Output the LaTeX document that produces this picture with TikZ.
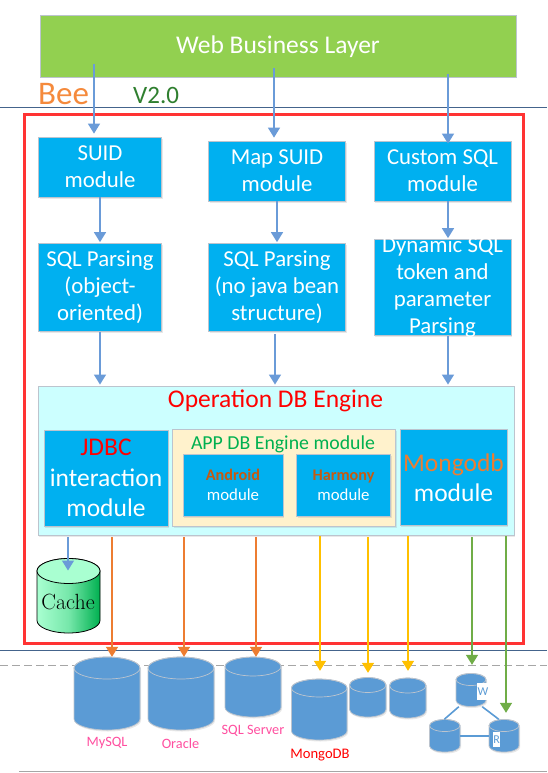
\documentclass[tikz,border=0pt]{standalone}
\usepackage{fontspec}
\setmainfont{Carlito}
\newfontfamily\cachefont{Latin Modern Roman}
\usetikzlibrary{arrows.meta,shadows}
\definecolor{boxblue}{HTML}{00B0F0}
\definecolor{edgegray}{HTML}{BCC4CE}
\definecolor{webgreen}{HTML}{92D050}
\definecolor{enginecyan}{HTML}{CCFFFF}
\definecolor{appcream}{HTML}{FFF2CC}
\definecolor{conblue}{HTML}{6A9BD8}
\definecolor{conorange}{HTML}{ED7D31}
\definecolor{conyellow}{HTML}{FFC000}
\definecolor{congreen}{HTML}{70AD47}
\definecolor{dbblue}{HTML}{5B9BD5}
\definecolor{framered}{HTML}{FF3333}
\definecolor{beeorange}{HTML}{F58A3C}
\definecolor{vgreen}{HTML}{2F7F2F}
\definecolor{rust}{HTML}{C55A11}
\definecolor{pinklabel}{HTML}{FF4FA0}
\definecolor{appgreen}{HTML}{00B050}
\definecolor{mint}{HTML}{A9FFD1}
\definecolor{cachegreen}{HTML}{00B050}
\definecolor{ruleblue}{HTML}{44648C}
\tikzset{
  softshadow/.style={drop shadow={opacity=.18,shadow xshift=1pt,shadow yshift=-1.5pt}},
  bx/.style={rectangle,draw=edgegray,line width=.8pt,fill=boxblue,text=white,align=center,inner sep=0pt,softshadow},
  txt22/.style={font=\fontsize{22.8}{27}\selectfont},
  txt25/.style={font=\fontsize{25.5}{30.5}\selectfont},
  conn/.style={line width=1.5pt,-{Triangle[width=12pt,length=10pt]}},
  cb/.style={conn,color=conblue},
  cor/.style={conn,color=conorange},
  cye/.style={conn,color=conyellow},
  cgr/.style={conn,color=congreen},
  dbbody/.style={fill=dbblue,draw=edgegray,line width=.7pt,softshadow},
  dbtop/.style={draw=edgegray,line width=.7pt},
  dblabel/.style={font=\fontsize{14.3}{16}\selectfont,text=pinklabel,inner sep=0pt},
  tag/.style={fill=white,text=dbblue,inner sep=0pt,font=\fontsize{12}{14}\selectfont},
  link/.style={draw=dbblue,line width=1.6pt}
}
% name, x0, y0, x1, y1, ry, body style, top style
\newcommand{\dbc}[8]{%
  \pgfmathsetmacro{\cx}{(#2+#4)/2}\pgfmathsetmacro{\rx}{(#4-#2)/2}%
  \pgfmathsetmacro{\kx}{.55*\rx}%
  \pgfmathsetmacro{\ya}{#3+#6}\pgfmathsetmacro{\yb}{#5-#6}%
  \pgfmathsetmacro{\yc}{\yb+.55*#6}\pgfmathsetmacro{\yd}{#3+.45*#6}%
  \pgfmathsetmacro{\ye}{#3+1.55*#6}\pgfmathsetmacro{\yf}{#3+2*#6}%
  \pgfmathsetmacro{\lmx}{\cx-\kx}\pgfmathsetmacro{\rmx}{\cx+\kx}%
  \pgfmathsetmacro{\ww}{#4-#2}\pgfmathsetmacro{\hh}{#5-#3}\pgfmathsetmacro{\cy}{(#3+#5)/2}%
  \node[inner sep=0pt,minimum width=\ww pt,minimum height=\hh pt] (#1) at (\cx,\cy) {};
  \path[#7] (#2,\ya) -- (#2,\yb) .. controls (#2,\yc) and (\lmx,#5) .. (\cx,#5)
     .. controls (\rmx,#5) and (#4,\yc) .. (#4,\yb) -- (#4,\ya)
     .. controls (#4,\yd) and (\rmx,#3) .. (\cx,#3) .. controls (\lmx,#3) and (#2,\yd) .. cycle;
  \path[#8] (#2,\ya) .. controls (#2,\ye) and (\lmx,\yf) .. (\cx,\yf)
     .. controls (\rmx,\yf) and (#4,\ye) .. (#4,\ya)
     .. controls (#4,\yd) and (\rmx,#3) .. (\cx,#3) .. controls (\lmx,#3) and (#2,\yd) .. (#2,\ya);
}
\begin{document}
\begin{tikzpicture}[x=1pt,y=-1pt]
\useasboundingbox (0,0) rectangle (547,773);
\fill[white] (0,0) rectangle (547,773);
% horizontal rules
\coordinate (r1a) at (0,107); \coordinate (r1b) at (547,107);
\draw[draw=ruleblue,line width=.9pt] (r1a) -- (r1b);
\coordinate (r2a) at (0,650); \coordinate (r2b) at (547,650);
\draw[draw=ruleblue,line width=.9pt] (r2a) -- (r2b);
\coordinate (r3a) at (0,665); \coordinate (r3b) at (547,665);
\draw[draw=black!35,dash pattern=on 8pt off 4pt,line width=.7pt] (r3a) -- (r3b);
\coordinate (r4a) at (19,771.3); \coordinate (r4b) at (547,771.3);
\draw[draw=black!35,line width=.8pt] (r4a) -- (r4b);

% web layer and titles
\node[bx,fill=webgreen,minimum width=476pt,minimum height=62pt,font=\fontsize{25.5}{30}\selectfont] (web) at (278,46) {\raisebox{-7.5pt}[0pt][0pt]{Web Business Layer}};
\node[inner sep=0pt,text=beeorange,font=\fontsize{33}{36}\selectfont,anchor=base west] (bee) at (38,105) {Bee};
\node[inner sep=0pt,text=vgreen,font=\fontsize{25}{28}\selectfont,anchor=base west] (ver) at (133,103.5) {V2.0};

% frame
\node[draw=framered,line width=3pt,inner sep=0pt,minimum width=499pt,minimum height=528pt] (frame) at (273.5,379) {};

% first row
\node[bx,txt22,minimum width=123pt,minimum height=60pt] (suid) at (100,167) {SUID\\module};
\node[bx,txt22,minimum width=137pt,minimum height=60pt] (mapsuid) at (277,171) {Map SUID\\module};
\node[bx,txt22,minimum width=137pt,minimum height=60pt] (custom) at (442.5,171) {Custom SQL\\module};
% second row
\node[bx,txt22,minimum width=123pt,minimum height=87.5pt] (sqla) at (100,287.3) {SQL Parsing\\(object-\\oriented)};
\node[bx,txt22,minimum width=137pt,minimum height=87.5pt] (sqlb) at (277,287.3) {SQL Parsing\\(no java bean\\structure)};
\node[bx,minimum width=137pt,minimum height=95.5pt] (dynbox) at (442.5,287.3) {};
\node[txt22,text=white,align=center,inner sep=0pt] (dyntext) at (442.5,287) {Dynamic SQL\\token and\\parameter\\Parsing};

% engine
\node[bx,fill=enginecyan,minimum width=476pt,minimum height=149.5pt] (engine) at (276.3,460.7) {};
\node[inner sep=0pt,text=red,font=\fontsize{25.5}{30}\selectfont] (enginetitle) at (275.5,401) {Operation DB Engine};
\node[bx,txt25,minimum width=124pt,minimum height=96pt] (jdbc) at (106,478) {\textcolor{red}{JDBC}\\interaction\\module};
\node[bx,fill=appcream,minimum width=223pt,minimum height=96.5pt] (app) at (284,478) {};
\node[inner sep=0pt,text=appgreen,font=\fontsize{19.8}{23}\selectfont] (apptitle) at (283,444) {APP DB Engine module};
\node[bx,font=\fontsize{16.8}{20}\selectfont,minimum width=100pt,minimum height=62pt] (android) at (233,485) {{\fontsize{16.2}{20}\selectfont\bfseries\textcolor{rust}{Android}}\\module};
\node[bx,font=\fontsize{16.8}{20}\selectfont,minimum width=94pt,minimum height=62pt] (harmony) at (343.5,485) {{\fontsize{16.2}{20}\selectfont\bfseries\textcolor{rust}{Harmony}}\\module};
\node[bx,txt25,minimum width=107pt,minimum height=96pt] (mongo) at (453.5,477.5) {\textcolor{conorange}{Mongodb}\\module};

% cache
\dbc{cache}{37}{558.5}{100}{633}{12.5}{draw=black,line width=.8pt,left color=mint,right color=cachegreen,middle color=mint!70!cachegreen}{draw=black,line width=.8pt,fill=mint}
\node[inner sep=0pt,text=black,font=\cachefont\fontsize{22}{24}\selectfont] (cachetext) at (68,602) {Cache};

% databases
\dbc{mysql}{74}{657}{140}{730}{11}{dbbody}{dbtop}
\dbc{oracle}{148}{657}{214}{730}{11}{dbbody}{dbtop}
\dbc{sqlserver}{225}{657}{281}{717}{9.5}{dbbody}{dbtop}
\dbc{mongodb}{291.5}{679}{347}{740}{9}{dbbody}{dbtop}
\dbc{mdb2}{349.5}{677.5}{386}{717}{7.5}{dbbody}{dbtop}
\dbc{mdb3}{389.5}{678}{426}{718}{7.5}{dbbody}{dbtop}
\dbc{cw}{456}{673.5}{486}{706.5}{6}{dbbody}{dbtop}
\dbc{cl}{429.5}{719.5}{460}{752}{6}{dbbody}{dbtop}
\dbc{cr}{489}{719.5}{519}{752}{6}{dbbody}{dbtop}
\draw[link] ([xshift=3pt]cw.south west) -- ([xshift=15pt]cl.north west);
\draw[link] ([xshift=-4pt]cw.south east) -- ([xshift=10pt]cr.north west);
\draw[link] (cl.east) -- (cr.west);
\node[tag,minimum width=12pt,minimum height=17pt] (wtag) at (483,691.5) {W};
\node[tag,minimum width=7pt,minimum height=15pt] (rtag) at (496.5,739.5) {R};
\node[dblabel] (lmysql) at (107,743.5) {MySQL};
\node[dblabel] (loracle) at (180.5,743.5) {Oracle};
\node[dblabel] (lsqlserver) at (253,731) {SQL Server};
\node[dblabel,text=red,font=\fontsize{14.6}{16}\selectfont] (lmongodb) at (320,755) {MongoDB};

% connectors
\coordinate (w1) at (94,64);\coordinate (w2) at (274,68);\coordinate (w3) at (448,74);
\draw[cb,shorten >=3pt] (w1) -- (w1 |- suid.north);
\draw[cb,shorten >=3pt] (w2) -- (w2 |- mapsuid.north);
\draw[cb,shorten >=-3pt] (w3) -- (w3 |- custom.north);
\draw[cb,shorten >=1pt] (suid.south) -- (sqla.north);
\draw[cb,shorten >=1pt] (mapsuid.south) -- (sqlb.north);
\coordinate (c3) at (448,201);
\draw[cb,shorten >=1pt] (c3) -- (c3 |- dynbox.north);
\coordinate (d1) at (100,332);\coordinate (d2) at (275,334);\coordinate (d3) at (448,336);
\draw[cb,shorten >=1pt] (d1) -- (d1 |- engine.north);
\draw[cb,shorten >=1pt] (d2) -- (d2 |- engine.north);
\draw[cb,shorten >=1pt] (d3) -- (d3 |- engine.north);
\coordinate (e0) at (68,537);\coordinate (e0t) at (68,570.5);
\draw[cb] (e0) -- (e0t);
\coordinate (e1) at (112,537);\coordinate (e2) at (184,537);\coordinate (e3) at (256,537);
\draw[cor] (e1) -- (e1 |- mysql.north);
\draw[cor] (e2) -- (e2 |- oracle.north);
\draw[cor] (e3) -- (e3 |- sqlserver.north);
\coordinate (e4) at (320,536);\coordinate (e5) at (368,537);\coordinate (e6) at (408,536);
\draw[cye,shorten >=8pt] (e4) -- (e4 |- mongodb.north);
\draw[cye,shorten >=4.5pt] (e5) -- (e5 |- mdb2.north);
\draw[cye,shorten >=7pt] (e6) -- (e6 |- mdb3.north);
\coordinate (e7) at (472,537);\coordinate (e8) at (506,536);
\draw[cgr,shorten >=8.5pt] (e7) -- (e7 |- cw.north);
\draw[cgr,shorten >=6.5pt] (e8) -- (e8 |- cr.north);
\end{tikzpicture}
\end{document}
